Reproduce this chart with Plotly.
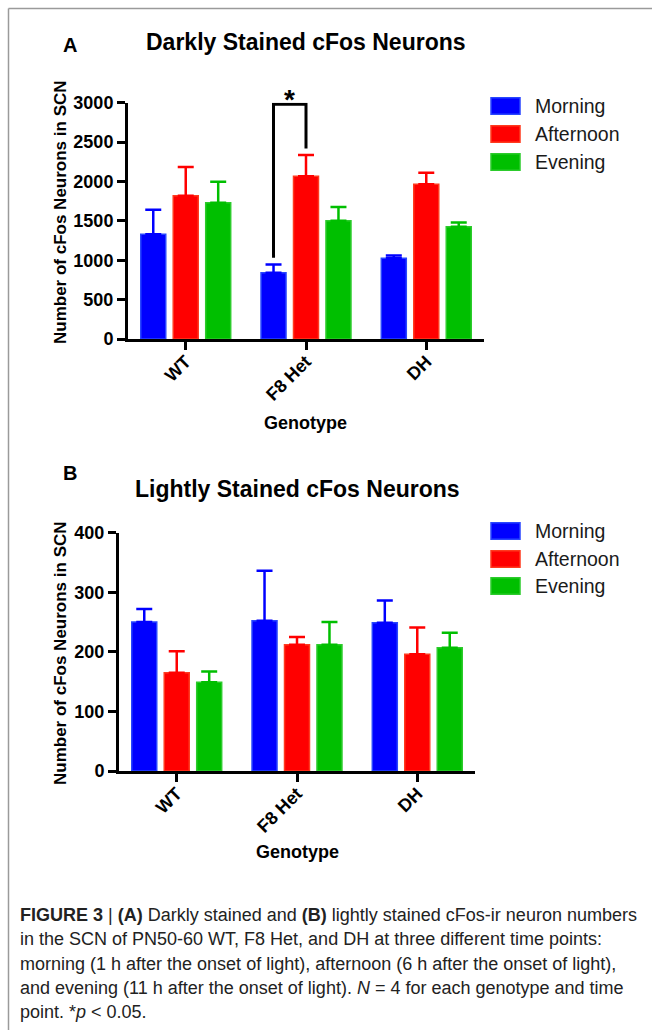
import plotly.graph_objects as go

# ---------------- data ----------------
genotypes = ["WT", "F8 Het", "DH"]
series_names = ["Morning", "Afternoon", "Evening"]

# Panel A: darkly stained (mean, +SEM)
dark_morning = [1330, 840, 1025]
dark_afternoon = [1820, 2065, 1965]
dark_evening = [1730, 1500, 1425]
dark_morning_err = [310, 105, 35]
dark_afternoon_err = [365, 270, 145]
dark_evening_err = [265, 175, 55]

# Panel B: lightly stained (mean, +SEM)
light_morning = [250, 252, 249]
light_afternoon = [165, 212, 196]
light_evening = [149, 212, 207]
light_morning_err = [22, 84, 37]
light_afternoon_err = [36, 13, 45]
light_evening_err = [18, 38, 25]

dark_ticks = [0, 500, 1000, 1500, 2000, 2500, 3000]
light_ticks = [0, 100, 200, 300, 400]

# significance bracket (F8 Het: Morning vs Afternoon), in data units
sig_left_y = 1030
sig_top_y = 2980
sig_right_y = 2420

caption_lines = [
    "<b>FIGURE 3</b> | <b>(A)</b> Darkly stained and <b>(B)</b> lightly stained cFos-ir neuron numbers",
    "in the SCN of PN50-60 WT, F8 Het, and DH at three different time points:",
    "morning (1 h after the onset of light), afternoon (6 h after the onset of light),",
    "and evening (11 h after the onset of light). <i>N</i> = 4 for each genotype and time",
    "point. *<i>p</i> &lt; 0.05.",
]

# ---------------- style ----------------
W, H = 652, 1030
fills = ["#0000FF", "#FF0000", "#00BF00"]
edges = ["#2846FF", "#FF3A1E", "#2CCB2C"]
FONT = "Liberation Sans, Arial, Helvetica, sans-serif"
BARGAP = 0.19
BARGROUPGAP = 0.23


def fx(px):
    return px / W


def fy(py):
    return 1 - py / H


fig = go.Figure()

panels = [
    dict(xa="x", ya="y", vals=[dark_morning, dark_afternoon, dark_evening],
         errs=[dark_morning_err, dark_afternoon_err, dark_evening_err]),
    dict(xa="x2", ya="y2", vals=[light_morning, light_afternoon, light_evening],
         errs=[light_morning_err, light_afternoon_err, light_evening_err]),
]

for p in panels:
    for i in range(3):
        fig.add_trace(go.Bar(
            x=genotypes, y=p["vals"][i], name=series_names[i],
            xaxis=p["xa"], yaxis=p["ya"],
            marker=dict(color=fills[i], line=dict(color=edges[i], width=1.5)),
            error_y=dict(type="data", array=p["errs"][i], arrayminus=[0] * 3,
                         symmetric=False, color=fills[i], thickness=2.5, width=8),
            showlegend=False, hoverinfo="skip",
        ))

axis_common = dict(showline=True, linecolor="black", linewidth=3, ticks="outside",
                   tickwidth=3, tickcolor="black", showgrid=False, zeroline=False,
                   automargin=False,
                   tickfont=dict(family=FONT, size=18, color="black", weight="bold"))

fig.update_layout(
    width=W, height=H, autosize=False,
    margin=dict(l=0, r=0, t=0, b=0, pad=0, autoexpand=False),
    paper_bgcolor="white", plot_bgcolor="white",
    barmode="group", bargap=BARGAP, bargroupgap=BARGROUPGAP,
    xaxis=dict(domain=[fx(128), fx(484)], anchor="y", type="category",
               range=[-0.48, 2.48], tickangle=-45, ticklen=8,
               ticklabelstandoff=-6, **axis_common),
    yaxis=dict(domain=[fy(339), fy(102.7)], anchor="x", range=[0, 3000],
               tickvals=dark_ticks, ticklen=8, **axis_common),
    xaxis2=dict(domain=[fx(119), fx(475)], anchor="y2", type="category",
                range=[-0.48, 2.48], tickangle=-45, ticklen=8,
                ticklabelstandoff=-6, **axis_common),
    yaxis2=dict(domain=[fy(771), fy(532.7)], anchor="x2", range=[0, 400],
                tickvals=light_ticks, ticklen=8, **axis_common),
)

# significance bracket
slot = (1 - BARGAP) / 3
xb = genotypes.index("F8 Het") - slot
xr = genotypes.index("F8 Het")
fig.add_shape(type="path", xref="x", yref="y",
              path=f"M {xb} {sig_left_y} L {xb} {sig_top_y} L {xr} {sig_top_y} L {xr} {sig_right_y}",
              line=dict(color="black", width=3))
fig.add_annotation(xref="x", yref="paper", x=(xb + xr) / 2, y=fy(99),
                   text="*", showarrow=False, yanchor="middle",
                   font=dict(family=FONT, size=28, color="black", weight="bold"))

# frame
fig.add_shape(type="line", xref="paper", yref="paper", x0=fx(8.5), x1=fx(8.5),
              y0=fy(8.5), y1=0, line=dict(color="#9a9a9a", width=1.5))
fig.add_shape(type="line", xref="paper", yref="paper", x0=fx(8.5), x1=1,
              y0=fy(8.5), y1=fy(8.5), line=dict(color="#9a9a9a", width=1.5))


def ann(x, y, text, size, bold=False, anchor="center", angle=0, color="black"):
    fig.add_annotation(xref="paper", yref="paper", x=fx(x), y=fy(y), text=text,
                       showarrow=False, xanchor=anchor, yanchor="middle", textangle=angle,
                       font=dict(family=FONT, size=size, color=color,
                                 weight="bold" if bold else "normal"))


# panel labels, titles, axis titles
ann(70, 45, "A", 20, bold=True)
ann(306, 42, "Darkly Stained cFos Neurons", 23, bold=True)
ann(60, 212, "Number of cFos Neurons in SCN", 17, bold=True, angle=-90)
ann(305.5, 423, "Genotype", 18, bold=True)

ann(70, 473, "B", 20, bold=True)
ann(297, 489, "Lightly Stained cFos Neurons", 23, bold=True)
ann(60, 653, "Number of cFos Neurons in SCN", 17, bold=True, angle=-90)
ann(297, 852, "Genotype", 18, bold=True)

# custom legends
for rows in ([106, 134, 162], [531, 559, 586]):
    for i, cy in enumerate(rows):
        fig.add_shape(type="rect", xref="paper", yref="paper",
                      x0=fx(491), x1=fx(520), y0=fy(cy + 8.3), y1=fy(cy - 8.3),
                      fillcolor=fills[i], line=dict(color=edges[i], width=1.5))
        ann(533, cy, series_names[i], 19.5, anchor="left", color="#1a1a1a")

# caption
for k, line in enumerate(caption_lines):
    ann(18, 915 + 24.3 * k, line, 18, anchor="left", color="#222222")

fig.write_html("out.html", config={"displayModeBar": False},
               post_script="document.body.style.margin='0';"
                           "document.documentElement.style.overflow='hidden';"
                           "document.body.style.overflow='hidden';")
